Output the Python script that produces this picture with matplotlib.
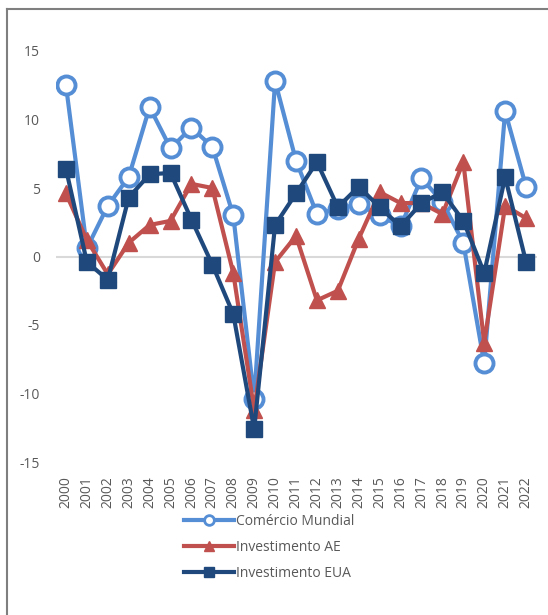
import numpy as np
import matplotlib
matplotlib.use("Agg")
from matplotlib import pyplot as plt
from matplotlib.lines import Line2D

plt.rcParams['font.family'] = ['Open Sans', 'DejaVu Sans']

# Data
years = [str(y) for y in range(2000, 2023)]
comercio = [12.5, 0.6, 3.7, 5.8, 10.9, 7.9, 9.4, 8.0, 3.0, -10.4, 12.8, 7.0,
            3.1, 3.5, 3.8, 3.0, 2.2, 5.7, 4.0, 1.0, -7.8, 10.6, 5.1]
invest_ae = [4.6, 1.2, -1.3, 1.0, 2.3, 2.6, 5.3, 5.0, -1.2, -11.2, -0.4, 1.5,
             -3.2, -2.5, 1.3, 4.7, 3.9, 3.9, 3.1, 6.9, -6.3, 3.7, 2.8]
invest_eua = [6.4, -0.4, -1.7, 4.3, 6.0, 6.1, 2.7, -0.6, -4.2, -12.6, 2.3, 4.6,
              6.9, 3.6, 5.1, 3.6, 2.2, 3.9, 4.7, 2.6, -1.2, 5.8, -0.4]
yticks = [15, 10, 5, 0, -5, -10, -15]

c_light = '#558ED5'
c_red = '#C0504D'
c_dark = '#1F497D'
txt = '#595959'

fig = plt.figure(figsize=(5.48, 6.15), dpi=100)
ax = fig.add_axes([55.5 / 548, 1 - 462 / 615, 481 / 548, 411 / 615])

x = np.arange(len(years))
ax.axhline(0, color='#D9D9D9', lw=1.5, zorder=1)
ax.plot(x, comercio, color=c_light, lw=3, marker='o', ms=13,
        mfc='white', mec=c_light, mew=2.8, label='Comércio Mundial', zorder=3)
ax.plot(x, invest_ae, color=c_red, lw=3, marker='^', ms=12,
        mfc=c_red, mec=c_red, label='Investimento AE', zorder=4)
ax.plot(x, invest_eua, color=c_dark, lw=3, marker='s', ms=11,
        mfc=c_dark, mec=c_dark, label='Investimento EUA', zorder=5)

ax.set_xlim(-0.5, len(years) - 0.5)
ax.set_ylim(-15, 15)
ax.set_yticks(yticks)
ax.set_yticklabels([str(v) for v in yticks])
ax.set_xticks(x)
ax.set_xticklabels(years, rotation=90)
ax.tick_params(axis='both', length=0, colors=txt, labelsize=10)
ax.tick_params(axis='y', pad=11)
ax.tick_params(axis='x', pad=10)
for s in ax.spines.values():
    s.set_visible(False)

h = [Line2D([], [], color=c_light, lw=3, marker='o', ms=7, mfc='white', mec=c_light, mew=2),
     Line2D([], [], color=c_red, lw=3, marker='^', ms=7, mfc=c_red, mec=c_red),
     Line2D([], [], color=c_dark, lw=3, marker='s', ms=7, mfc=c_dark, mec=c_dark)]
leg = fig.legend(h, ['Comércio Mundial', 'Investimento AE', 'Investimento EUA'],
                 loc='upper left', bbox_to_anchor=(178 / 548, 1 - 508 / 615),
                 frameon=False, fontsize=10, handlelength=3.6, labelspacing=0.8,
                 handletextpad=0.15, borderaxespad=0)
for t in leg.get_texts():
    t.set_color(txt)

# border lines of the chart frame
fig.add_artist(Line2D([7 / 548, 1], [1 - 9 / 615, 1 - 9 / 615], color='#7F7F7F', lw=1.5))
fig.add_artist(Line2D([7 / 548, 7 / 548], [0, 1 - 9 / 615], color='#7F7F7F', lw=1.5))

fig.savefig('out.png', dpi=100)
